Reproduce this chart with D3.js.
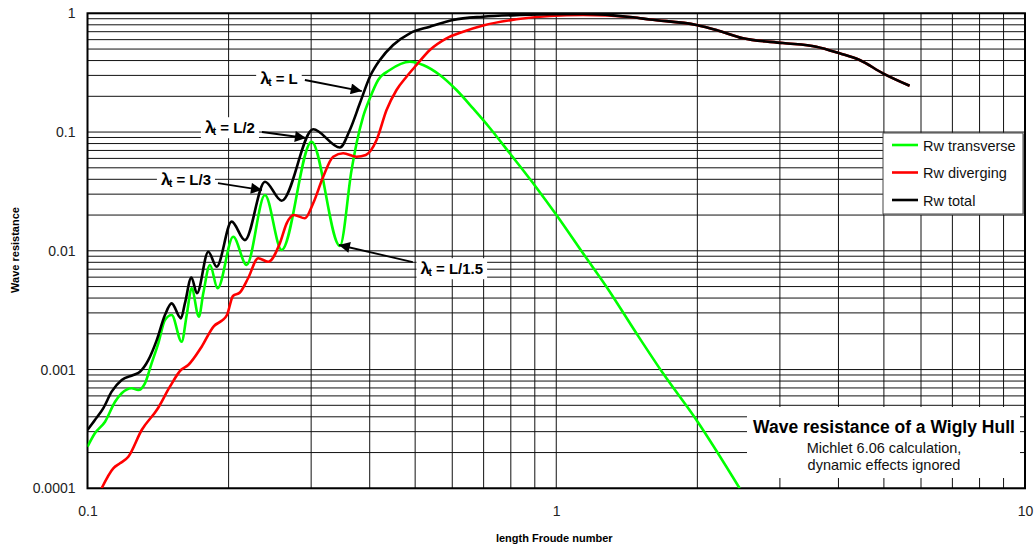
<!DOCTYPE html>
<html>
<head>
<meta charset="utf-8">
<script src="https://cdn.jsdelivr.net/npm/d3@7"></script>
<style>
    body { margin: 0; background: #fff; }
    svg { font-family: "Liberation Sans", Arial, sans-serif; }
</style>
</head>
<body>
<div id="chart"></div>
<script>
// Froude number / wave resistance values
const totalFn = [0.100, 0.1037, 0.1081, 0.1126, 0.1183, 0.1252, 0.1294, 0.1348, 0.1405, 0.1463, 0.1512, 0.1582, 0.1614, 0.1666, 0.1712, 0.181, 0.1886, 0.203, 0.2167, 0.2391, 0.2595, 0.303, 0.3455, 0.3628, 0.3811, 0.4003, 0.4205, 0.4487, 0.4872, 0.5374, 0.6025, 0.697, 0.836, 1.139, 1.456, 1.583, 1.991, 2.196, 2.502, 3.045, 3.588, 4.022, 4.437, 4.976, 5.673];
const totalRw = [3.10e-4, 3.76e-4, 4.74e-4, 6.51e-4, 8.17e-4, 8.99e-4, 9.59e-4, 1.20e-3, 1.77e-3, 2.88e-3, 3.61e-3, 2.70e-3, 3.63e-3, 5.96e-3, 4.39e-3, 9.83e-3, 7.35e-3, 1.76e-2, 1.23e-2, 3.82e-2, 2.64e-2, 0.1055, 0.0741, 0.1041, 0.1746, 0.2924, 0.4044, 0.5408, 0.6786, 0.7711, 0.878, 0.936, 0.968, 0.987, 0.925, 0.887, 0.797, 0.723, 0.616, 0.562, 0.523, 0.460, 0.4044, 0.3125, 0.2456];

const divergingFn = [0.1072, 0.1135, 0.1173, 0.1222, 0.1305, 0.141, 0.1499, 0.1582, 0.164, 0.1752, 0.1861, 0.1936, 0.1984, 0.2043, 0.2114, 0.2202, 0.2313, 0.243, 0.2573, 0.266, 0.2757, 0.2909, 0.303, 0.3183, 0.3343, 0.3511, 0.375, 0.3925, 0.4137, 0.4345, 0.4563, 0.4792, 0.5033, 0.5374, 0.5833, 0.6329, 0.6982, 0.8224, 0.9686, 1.1405, 1.456, 1.583, 1.991, 2.196, 2.502, 3.045, 3.588, 4.022, 4.437, 4.976, 5.673];
const divergingRw = [1.0e-4, 1.474e-4, 1.623e-4, 1.845e-4, 3.097e-4, 4.653e-4, 7.171e-4, 9.913e-4, 1.092e-3, 1.557e-3, 2.326e-3, 2.588e-3, 2.88e-3, 4.162e-3, 4.454e-3, 5.901e-3, 8.646e-3, 8.09e-3, 1.157e-2, 1.704e-2, 2.002e-2, 1.878e-2, 2.512e-2, 4.207e-2, 6.2e-2, 6.625e-2, 6.2e-2, 6.409e-2, 8.57e-2, 0.1533, 0.2259, 0.2924, 0.367, 0.4909, 0.616, 0.6999, 0.7896, 0.89, 0.949, 0.968, 0.925, 0.887, 0.797, 0.723, 0.616, 0.562, 0.523, 0.460, 0.4044, 0.3125, 0.2456];

const transverseFn = [0.100, 0.1037, 0.109, 0.1145, 0.1183, 0.1242, 0.1283, 0.1326, 0.137, 0.1416, 0.1463, 0.1512, 0.1588, 0.1628, 0.1668, 0.1728, 0.1766, 0.1825, 0.1895, 0.2046, 0.2185, 0.2391, 0.2595, 0.3006, 0.3455, 0.3659, 0.375, 0.3873, 0.4003, 0.4169, 0.4415, 0.4872, 0.5199, 0.5645, 0.6126, 0.6646, 0.7216, 0.7958, 0.9074, 1.001, 1.1405, 1.2796, 1.4825, 1.6895, 1.991, 2.462];
const transverseRw = [2.24e-4, 2.904e-4, 3.638e-4, 5.36e-4, 6.31e-4, 6.952e-4, 6.727e-4, 7.658e-4, 1.129e-3, 1.664e-3, 2.614e-3, 2.88e-3, 1.716e-3, 2.88e-3, 4.833e-3, 2.787e-3, 4.386e-3, 7.592e-3, 4.833e-3, 1.314e-2, 7.592e-3, 2.951e-2, 1.016e-2, 8.292e-2, 1.098e-2, 4.79e-2, 8.04e-2, 0.1347, 0.1924, 0.2744, 0.333, 0.3913, 0.367, 0.3022, 0.2259, 0.1580, 0.1082, 6.625e-2, 3.40e-2, 2.002e-2, 9.526e-3, 4.985e-3, 2.02e-3, 9.29e-4, 3.76e-4, 1.0e-4];

const seriesNames = ["Rw transverse", "Rw diverging", "Rw total"];
const seriesColors = ["#00ff00", "#ff0000", "#000000"];

const xTickLabels = [0.1, 1, 10];
const yTickLabels = [0.0001, 0.001, 0.01, 0.1, 1];

// wavelength annotations: label anchor, arrow start, arrow tip (Fn, Rw)
const noteLabels = ["L", "L/2", "L/3", "L/1.5"];
const noteAt = [[0.2561, 0.2797], [0.2013, 0.1082], [0.1622, 0.0395], [0.5987, 0.00703]];
const noteFrom = [[0.2909, 0.2744], [0.2356, 0.1001], [0.1898, 0.0372], [0.4943, 0.00804]];
const noteTip = [[0.3847, 0.2216], [0.2924, 0.0891], [0.2356, 0.0325], [0.3438, 0.01119]];

function drawChart() {
    const width = 1035;
    const height = 547;
    const plot = { left: 87.5, right: 1025, top: 13.3, bottom: 488.3 };

    const svg = d3.select("#chart")
        .append("svg")
        .attr("width", width)
        .attr("height", height);

    const x = d3.scaleLog().domain([0.1, 10]).range([plot.left, plot.right]);
    const y = d3.scaleLog().domain([0.0001, 1]).range([plot.bottom, plot.top]);

    // grid lines at every 1..9 step of each decade
    const xGrid = [];
    [0.1, 1].forEach(dec => d3.range(1, 10).forEach(k => xGrid.push(dec * k)));
    xGrid.push(10);
    const yGrid = [];
    [0.0001, 0.001, 0.01, 0.1].forEach(dec => d3.range(1, 10).forEach(k => yGrid.push(dec * k)));
    yGrid.push(1);

    const grid = svg.append("g").attr("stroke", "#111").attr("stroke-width", 1);
    grid.selectAll(".vg")
        .data(xGrid)
        .enter()
        .append("line")
        .attr("x1", d => x(d)).attr("x2", d => x(d))
        .attr("y1", plot.top).attr("y2", plot.bottom);
    grid.selectAll(".hg")
        .data(yGrid)
        .enter()
        .append("line")
        .attr("x1", plot.left).attr("x2", plot.right)
        .attr("y1", d => y(d)).attr("y2", d => y(d));

    // plot frame
    svg.append("rect")
        .attr("x", plot.left)
        .attr("y", plot.top)
        .attr("width", plot.right - plot.left)
        .attr("height", plot.bottom - plot.top)
        .attr("fill", "none")
        .attr("stroke", "#000")
        .attr("stroke-width", 2);

    // axes (labels only)
    const xAxis = svg.append("g")
        .attr("transform", `translate(0, ${plot.bottom})`)
        .call(d3.axisBottom(x).tickValues(xTickLabels).tickFormat(d => String(d)).tickSize(0).tickPadding(18));
    const yAxis = svg.append("g")
        .attr("transform", `translate(${plot.left}, 0)`)
        .call(d3.axisLeft(y).tickValues(yTickLabels).tickFormat(d => String(d)).tickSize(0).tickPadding(12));
    [xAxis, yAxis].forEach(a => {
        a.select(".domain").remove();
        a.selectAll("text")
            .attr("font-family", "'Liberation Sans', Arial, sans-serif")
            .attr("font-size", 14)
            .attr("fill", "#222");
    });

    // axis titles
    svg.append("text")
        .attr("x", (plot.left + plot.right) / 2 - 2)
        .attr("y", 542)
        .attr("text-anchor", "middle")
        .attr("font-size", 11)
        .attr("font-weight", "bold")
        .text("length Froude number");

    svg.append("text")
        .attr("transform", `translate(19, 250) rotate(-90)`)
        .attr("text-anchor", "middle")
        .attr("font-size", 11)
        .attr("font-weight", "bold")
        .text("Wave resistance");

    // curves
    svg.append("clipPath").attr("id", "plotClip")
        .append("rect")
        .attr("x", plot.left).attr("y", plot.top)
        .attr("width", plot.right - plot.left).attr("height", plot.bottom - plot.top);

    const line = d3.line()
        .x(d => x(d[0]))
        .y(d => y(d[1]))
        .curve(d3.curveMonotoneX);

    const series = [
        d3.zip(transverseFn, transverseRw),
        d3.zip(divergingFn, divergingRw),
        d3.zip(totalFn, totalRw)
    ];

    svg.append("g")
        .attr("clip-path", "url(#plotClip)")
        .selectAll("path")
        .data(series)
        .enter()
        .append("path")
        .attr("d", line)
        .attr("fill", "none")
        .attr("stroke", (d, i) => seriesColors[i])
        .attr("stroke-width", 2.6)
        .attr("stroke-linejoin", "round");

    // arrow head marker
    svg.append("defs")
        .append("marker")
        .attr("id", "arrowHead")
        .attr("viewBox", "0 0 10 10")
        .attr("refX", 10)
        .attr("refY", 5)
        .attr("markerWidth", 14)
        .attr("markerHeight", 11)
        .attr("markerUnits", "userSpaceOnUse")
        .attr("orient", "auto")
        .append("path")
        .attr("d", "M0,0 L10,5 L0,10 Z")
        .attr("fill", "#000");

    // wavelength annotations
    noteLabels.forEach((lab, i) => {
        svg.append("line")
            .attr("x1", x(noteFrom[i][0])).attr("y1", y(noteFrom[i][1]))
            .attr("x2", x(noteTip[i][0])).attr("y2", y(noteTip[i][1]))
            .attr("stroke", "#000")
            .attr("stroke-width", 1.8)
            .attr("marker-end", "url(#arrowHead)");

        const g = svg.append("g")
            .attr("transform", `translate(${x(noteAt[i][0])}, ${y(noteAt[i][1])})`);
        const bg = g.append("rect").attr("fill", "#fff");
        const t = g.append("text")
            .attr("text-anchor", "middle")
            .attr("dy", "0.35em")
            .attr("font-size", 15)
            .attr("font-weight", "bold");
        t.append("tspan").attr("font-size", 17).text("\u03bb");
        t.append("tspan").attr("font-size", 10).attr("dy", 2).attr("dx", -1.5).text("t");
        t.append("tspan").attr("dy", -2).text(" = " + lab);
        const bb = t.node().getBBox();
        bg.attr("x", bb.x - 4).attr("y", bb.y - 1)
            .attr("width", bb.width + 8).attr("height", bb.height + 2);
    });

    // legend
    const legend = svg.append("g").attr("transform", "translate(883, 133)");
    legend.append("rect")
        .attr("x", 1).attr("y", 1)
        .attr("width", 140)
        .attr("height", 81)
        .attr("fill", "#999");
    legend.append("rect")
        .attr("width", 140)
        .attr("height", 81)
        .attr("fill", "#fff")
        .attr("stroke", "#444")
        .attr("stroke-width", 1);
    seriesNames.forEach((name, i) => {
        const ly = 12 + i * 27.5;
        legend.append("line")
            .attr("x1", 9).attr("x2", 35)
            .attr("y1", ly).attr("y2", ly)
            .attr("stroke", seriesColors[i])
            .attr("stroke-width", 2.6);
        legend.append("text")
            .attr("x", 40)
            .attr("y", ly + 5.5)
            .attr("font-size", 14.5)
            .attr("fill", "#111")
            .text(name);
    });

    // title box
    const info = svg.append("g").attr("transform", "translate(747, 407)");
    info.append("rect")
        .attr("width", 273)
        .attr("height", 71)
        .attr("fill", "#fff");
    info.append("text")
        .attr("x", 137).attr("y", 26)
        .attr("text-anchor", "middle")
        .attr("font-size", 17.5)
        .attr("font-weight", "bold")
        .text("Wave resistance of a Wigly Hull");
    info.append("text")
        .attr("x", 137).attr("y", 46)
        .attr("text-anchor", "middle")
        .attr("font-size", 14.5)
        .attr("fill", "#111")
        .text("Michlet 6.06 calculation,");
    info.append("text")
        .attr("x", 137).attr("y", 63)
        .attr("text-anchor", "middle")
        .attr("font-size", 14.5)
        .attr("fill", "#111")
        .text("dynamic effects ignored");
}

drawChart();
</script>
</body>
</html>
